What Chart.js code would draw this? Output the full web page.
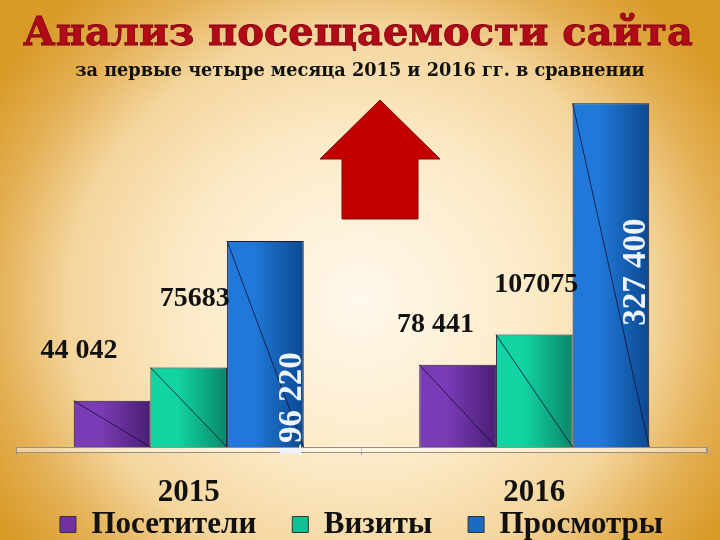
<!DOCTYPE html>
<html><head><meta charset="utf-8">
<script src="https://cdn.jsdelivr.net/npm/chart.js@4.4.0/dist/chart.umd.min.js"></script>
<style>html,body{margin:0;padding:0;overflow:hidden;background:#f3d9a3}
#wrap{position:relative;width:720px;height:540px}</style></head>
<body><div id="wrap"><canvas id="c" width="720" height="540"></canvas></div>
<script>
// ---- data ----
const categories = ['2015', '2016'];
const seriesNames = ['Посетители', 'Визиты', 'Просмотры'];
const visitors = [44042, 78441];
const visits = [75683, 107075];
const views = [196220, 327400];
const valueLabels = [['44 042', '78 441'], ['75683', '107075'], ['196 220', '327 400']];
const titleText = 'Анализ посещаемости сайта';
const subtitleText = 'за первые четыре месяца 2015 и 2016 гг. в сравнении';

// ---- styling / placement (not data) ----
const barGrad = [['#7b3bb6', '#4a1e74'], ['#12d4a2', '#0a876a'], ['#2079d8', '#0b4890']];
const legendColors = ['#7030a0', '#10c090', '#1a6ac0'];
const labelPlace = [[[-33, -50, 0], [-22, -40, 0]], [[6, -69, 0], [2, -50, 0]], [[27, 165, 1], [26, 169, 1]]];
const CAT_PCT = 0.6657;
const LEG_PAD = 36;

function barFill(c) {
  const chart = c.chart, xs = chart.scales.x;
  if (!xs || c.type !== 'data' || !isFinite(xs.width)) return legendColors[c.datasetIndex];
  const catW = xs.width / categories.length;
  const group = catW * CAT_PCT;
  const center = xs.getPixelForValue(c.dataIndex);
  const left = center - group / 2 + c.datasetIndex * group / 3;
  const right = left + group / 3;
  const g = chart.ctx.createLinearGradient(left, 0, right, 0);
  const cols = barGrad[c.datasetIndex];
  g.addColorStop(0, cols[0]);
  g.addColorStop(0.35, cols[0]);
  g.addColorStop(1, cols[1]);
  return g;
}

function fitFont(ctx, text, weight, family, target) {
  ctx.font = weight + ' 100px ' + family;
  const w = ctx.measureText(text).width;
  return 100 * target / w;
}

const decor = {
  id: 'decor',
  beforeDraw(chart) {
    const ctx = chart.ctx;
    ctx.save();
    ctx.translate(360, 300);
    ctx.scale(430, 400);
    const g = ctx.createRadialGradient(0, 0, 0, 0, 0, 1);
    g.addColorStop(0, '#fff8ec');
    g.addColorStop(0.4, '#fcebc9');
    g.addColorStop(0.68, '#f4d59c');
    g.addColorStop(0.85, '#e4b055');
    g.addColorStop(1, '#d99a28');
    ctx.fillStyle = g;
    ctx.fillRect(-2, -2, 4, 4);
    ctx.restore();

    // title
    ctx.save();
    ctx.textAlign = 'center';
    ctx.textBaseline = 'alphabetic';
    let s = fitFont(ctx, titleText, 'bold', '"DejaVu Serif"', 670);
    ctx.font = 'bold ' + s + 'px "DejaVu Serif"';
    ctx.fillStyle = '#b30a18';
    ctx.fillText(titleText, 358, 45);
    ctx.lineWidth = 0.8;
    ctx.strokeStyle = '#7a0010';
    ctx.strokeText(titleText, 358, 45);
    s = fitFont(ctx, subtitleText, 'bold', '"DejaVu Serif"', 570);
    ctx.font = 'bold ' + s + 'px "DejaVu Serif"';
    ctx.fillStyle = '#111';
    ctx.fillText(subtitleText, 360, 76);
    ctx.restore();

    // decorative arrow
    ctx.save();
    ctx.beginPath();
    ctx.moveTo(380, 100);
    ctx.lineTo(440, 159);
    ctx.lineTo(418, 159);
    ctx.lineTo(418, 219);
    ctx.lineTo(342, 219);
    ctx.lineTo(342, 159);
    ctx.lineTo(320, 159);
    ctx.closePath();
    ctx.fillStyle = '#c20000';
    ctx.fill();
    ctx.lineWidth = 1;
    ctx.strokeStyle = '#7a0a0a';
    ctx.stroke();
    ctx.restore();
  },
  beforeDatasetsDraw(chart) {
    const ctx = chart.ctx, a = chart.chartArea;
    ctx.save();
    ctx.fillStyle = 'rgba(255,255,255,0.45)';
    ctx.fillRect(a.left, a.bottom, a.right - a.left, 5);
    ctx.strokeStyle = '#9a9080';
    ctx.lineWidth = 1;
    ctx.strokeRect(a.left + 0.5, a.bottom + 0.5, a.right - a.left - 1, 5);
    ctx.restore();
  },
  afterDatasetsDraw(chart) {
    const ctx = chart.ctx;
    ctx.save();
    chart.data.datasets.forEach((ds, di) => {
      const meta = chart.getDatasetMeta(di);
      meta.data.forEach((el, i) => {
        const p = el.getProps(['x', 'y', 'base', 'width'], true);
        ctx.beginPath();
        ctx.moveTo(p.x - p.width / 2, p.y);
        ctx.lineTo(p.x + p.width / 2, p.base);
        ctx.strokeStyle = 'rgba(20,20,60,0.85)';
        ctx.lineWidth = 1;
        ctx.stroke();
      });
    });
    chart.data.datasets.forEach((ds, di) => {
      const meta = chart.getDatasetMeta(di);
      meta.data.forEach((el, i) => {
        const p = el.getProps(['x', 'y'], true);
        const pl = labelPlace[di][i];
        const tx = p.x + pl[0], ty = p.y + pl[1];
        ctx.save();
        ctx.textAlign = 'center';
        ctx.textBaseline = 'middle';
        if (pl[2]) {
          ctx.translate(tx, ty);
          ctx.rotate(-Math.PI / 2);
          ctx.font = 'bold 33px "Liberation Serif"';
          ctx.fillStyle = '#eef4ff';
          ctx.fillText(valueLabels[di][i], 0, 0);
        } else {
          ctx.font = 'bold 28px "Liberation Serif"';
          ctx.fillStyle = '#111';
          ctx.fillText(valueLabels[di][i], tx, ty);
        }
        ctx.restore();
      });
    });
    ctx.restore();
  }
};

const seriesData = [visitors, visits, views];
new Chart(document.getElementById('c'), {
  type: 'bar',
  data: {
    labels: categories,
    datasets: seriesNames.map((n, i) => ({
      label: n,
      data: seriesData[i],
      backgroundColor: barFill,
      borderColor: '#1c1c3a',
      borderWidth: 1,
      categoryPercentage: CAT_PCT,
      barPercentage: 1.0
    }))
  },
  options: {
    responsive: false,
    animation: false,
    devicePixelRatio: 1,
    layout: { padding: { top: 90, bottom: -10, left: 16, right: 13 } },
    scales: {
      x: {
        grid: { display: true, drawOnChartArea: false, drawTicks: true, tickLength: 8, color: '#9a9a9a', offset: true },
        border: { display: false },
        ticks: { color: '#111', font: { family: '"Liberation Serif"', weight: 'bold', size: 31 }, padding: 19 },
        afterFit(scale) { scale.height = 64; }
      },
      y: { display: false, min: 0, max: 340000 }
    },
    plugins: {
      tooltip: { enabled: false },
      legend: {
        position: 'bottom',
        title: { display: true, text: '', font: { size: 1, lineHeight: 1 }, padding: { top: -39, bottom: 0 } },
        labels: {
          color: '#111',
          font: { family: '"Liberation Serif"', weight: 'bold', size: 31 },
          boxWidth: 16,
          boxHeight: 16,
          padding: LEG_PAD,
          generateLabels(chart) {
            const items = Chart.defaults.plugins.legend.labels.generateLabels(chart);
            items.forEach((it, i) => { it.fillStyle = legendColors[i]; it.strokeStyle = '#333'; it.lineWidth = 1; });
            return items;
          }
        }
      }
    }
  },
  plugins: [decor]
});
</script></body></html>
